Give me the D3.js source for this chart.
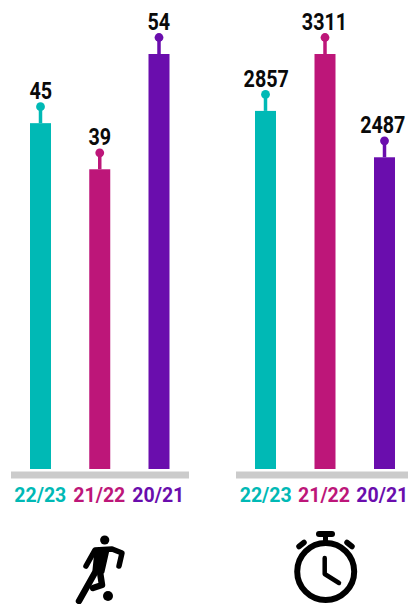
<!DOCTYPE html>
<html><head><meta charset="utf-8">
<script src="https://cdn.jsdelivr.net/npm/d3@7"></script>
<style>html,body{margin:0;padding:0;background:#fff}svg{display:block}text{font-family:Roboto,sans-serif}</style>
</head><body><svg id="c" width="408" height="604"></svg>
<script>
const seasons = ["22/23","21/22","20/21"];
const goals = [45,39,54];
const minutes = [2857,3311,2487];
const colors = ["#00b9b5","#bd1679","#6a0dad"];

const svg = d3.select("#c");
const baseY = 469, topY = 54;
const color = d3.scaleOrdinal(seasons, colors);

function panel(values, maxV, x0, x1, axisL, axisR, labL, labR){
  const x = d3.scalePoint(seasons,[x0,x1]);
  const xLab = d3.scalePoint(seasons,[labL,labR]);
  const y = d3.scaleLinear([0,maxV],[baseY,topY]);
  const g = svg.append("g");
  const rows = seasons.map((s,i)=>({s,v:values[i]}));
  g.append("rect").attr("x",axisL).attr("y",471.5).attr("width",axisR-axisL).attr("height",7).attr("fill","#cbcbcb");
  const m = g.selectAll("g.m").data(rows).join("g").attr("class","m");
  m.append("rect").attr("x",d=>x(d.s)-10.5).attr("width",21).attr("y",d=>y(d.v)).attr("height",d=>baseY-y(d.v)).attr("fill",d=>color(d.s));
  m.append("line").attr("x1",d=>x(d.s)).attr("x2",d=>x(d.s)).attr("y1",d=>y(d.v)).attr("y2",d=>y(d.v)-16).attr("stroke",d=>color(d.s)).attr("stroke-width",3.5);
  m.append("circle").attr("cx",d=>x(d.s)).attr("cy",d=>y(d.v)-16.5).attr("r",4.4).attr("fill",d=>color(d.s));
  m.append("text").attr("transform",d=>`translate(${xLab(d.s)+0.5},${y(d.v)-24}) scale(0.84,1)`).attr("text-anchor","middle").attr("font-size",23.5).attr("font-weight",700).attr("fill","#0a0a0a").text(d=>d.v);
  m.append("text").attr("transform",d=>`translate(${xLab(d.s)},502) scale(0.93,1)`).attr("text-anchor","middle").attr("font-size",21).attr("font-weight",700).attr("fill",d=>color(d.s)).text(d=>d.s);
}
panel(goals,54,40.5,159,11,189,40.3,158.3);
panel(minutes,3311,265.5,384.5,236,408,265.7,382.3);

// player icon
const p = svg.append("g").attr("fill","none").attr("stroke","#000").attr("stroke-width",6).attr("stroke-linecap","round").attr("stroke-linejoin","round");
p.append("circle").attr("cx",104.7).attr("cy",540).attr("r",4.6).attr("fill","#000").attr("stroke","none");
p.append("circle").attr("cx",108).attr("cy",596).attr("r",5).attr("fill","#000").attr("stroke","none");
p.append("path").attr("stroke-width",5.5).attr("d","M86 566 L95 550 L112 549 L122 553 L119 566");
p.append("path").attr("fill","#000").attr("stroke-width",3).attr("d","M96 550 L108 550 L103 572 L94 570 Z");
p.append("path").attr("stroke-width",6.5).attr("d","M97 569 L79 601");
p.append("path").attr("stroke-width",6.5).attr("d","M100 572 L102 585 L93 588");

// stopwatch icon
const w = svg.append("g").attr("fill","none").attr("stroke","#000");
w.append("circle").attr("cx",325.7).attr("cy",571.5).attr("r",28.5).attr("stroke-width",6);
w.append("path").attr("stroke-width",6).attr("stroke-linecap","round").attr("d","M319 534 L332 534");
w.append("path").attr("stroke-width",5).attr("d","M325.5 534 L325.5 541");
w.append("path").attr("stroke-width",5.5).attr("stroke-linecap","round").attr("d","M299 546.5 L304 542.5");
w.append("path").attr("stroke-width",5.5).attr("stroke-linecap","round").attr("d","M352 546.5 L347 542.5");
w.append("path").attr("stroke-width",4.5).attr("stroke-linejoin","round").attr("stroke-linecap","round").attr("d","M324.7 558 L324.7 574 L339 583");
</script></body></html>
